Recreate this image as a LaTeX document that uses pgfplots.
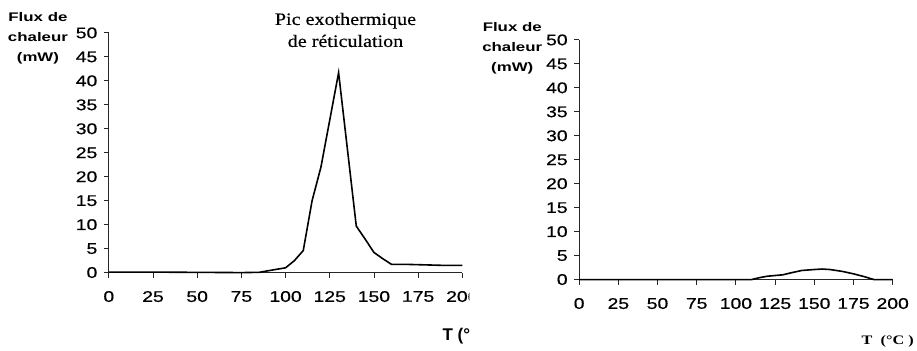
\documentclass[border=0pt]{standalone}
\usepackage{fontspec}
\setmainfont{Liberation Sans}[FakeStretch=1.25,FakeBold=0.6]
\newfontfamily\labfont{Liberation Sans}[FakeStretch=1.35]
\newfontfamily\plainsans{Liberation Sans}
\newfontfamily\titfont{Liberation Serif}[FakeStretch=1.15,FakeBold=0.4]
\newfontfamily\serifb{Liberation Serif}[FakeStretch=1.25]
\usepackage{pgfplots}
\pgfplotsset{compat=1.18}
\begin{document}
\begin{tikzpicture}[x=1bp,y=1bp]
\path (0,0) rectangle (917,349);
\pgfplotsset{
 dsc/.style={
  scale only axis, axis lines=left, axis line style={-, black!85, line width=0.9bp},
  xmin=0,xmax=200,ymin=0,ymax=50,
  xtick={0,25,...,200}, ytick={0,5,...,50},
  tick style={black!85, line width=0.9bp}, tick align=outside, major tick length=5bp,
  ticklabel style={font=\fontsize{15.5bp}{18bp}\selectfont},
  /pgf/number format/assume math mode=true,
  xticklabel style={yshift=-10bp},
  yticklabel style={xshift=-3bp},
  clip=false,
 }
}
\begin{scope}
\clip (0,0) rectangle (470,349);
\begin{axis}[dsc, width=354bp, height=240bp, at={(109bp,76bp)}, anchor=south west]
\addplot[black, line width=1.6bp] coordinates {
(0,0.1) (25,0.1) (50,0.05) (75,0) (85,0.05) (92,0.5) (100,1.0) (105,2.5) (110,4.6) (115,15) (120,22) (130,41.7) (140,9.7) (145,7) (150,4.2) (155,2.9) (160,1.7) (170,1.7) (180,1.6) (190,1.5) (200,1.5)
};
\end{axis}
\node[anchor=west, inner sep=0pt, font=\plainsans\bfseries\fontsize{17bp}{20bp}\selectfont] at (443,12) {T (°C)};
\end{scope}
\node[anchor=base, font=\titfont\fontsize{17.5bp}{20bp}\selectfont] at (346,324) {Pic exothermique};
\node[anchor=base, font=\titfont\fontsize{17.5bp}{20bp}\selectfont] at (346,302) {de réticulation};
\node[align=center, font=\labfont\bfseries\fontsize{12.5bp}{20bp}\selectfont] at (38,311) {Flux de\\chaleur\\(mW)};
\begin{axis}[dsc, width=314bp, height=240bp, at={(580bp,69bp)}, anchor=south west]
\addplot[black, line width=1.6bp] coordinates {
(0,0) (25,0) (50,0) (75,0) (100,0) (110,0) (115,0.4) (120,0.7) (130,1.0) (135,1.4) (142,1.9) (150,2.1) (155,2.2) (160,2.1) (168,1.7) (175,1.2) (182,0.6) (188,0) (200,0)
};
\end{axis}
\node[align=center, font=\labfont\bfseries\fontsize{12.5bp}{20bp}\selectfont] at (513,301) {Flux de\\chaleur\\(mW)};
\node[font=\serifb\bfseries\fontsize{13bp}{14bp}\selectfont] at (889,7) {T \ (°C )};
\end{tikzpicture}
\end{document}
